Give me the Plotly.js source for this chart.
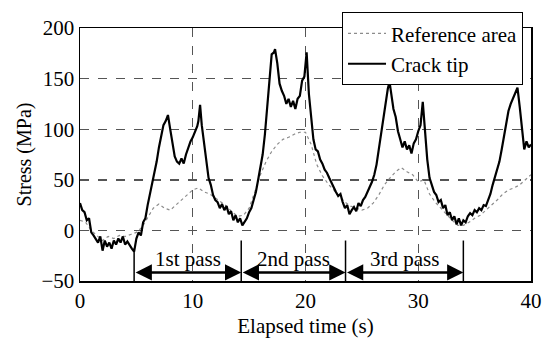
<!DOCTYPE html>
<html><head><meta charset="utf-8">
<script src="https://cdn.plot.ly/plotly-3.0.1.min.js"></script>
<style>html,body{margin:0;padding:0;background:#fff}#c{width:553px;height:345px}</style>
</head><body><div id="c"></div>
<script>
const crackT = [0,0.2,0.4,0.6,0.8,1,1.2,1.4,1.6,1.8,2,2.2,2.4,2.6,2.8,3,3.2,3.4,3.6,3.8,4,4.2,4.4,4.6,4.8,5,5.2,5.4,5.6,5.8,6,6.2,6.4,6.6,6.8,7,7.2,7.4,7.6,7.8,8,8.2,8.4,8.6,8.8,9,9.2,9.4,9.6,9.8,10,10.2,10.4,10.5,10.65,10.8,11,11.2,11.4,11.6,11.8,12,12.2,12.4,12.6,12.8,13,13.2,13.4,13.6,13.8,14,14.2,14.4,14.6,14.8,15,15.2,15.4,15.6,15.8,16,16.2,16.4,16.6,16.8,17,17.2,17.3,17.5,17.7,17.9,18.1,18.3,18.5,18.7,18.9,19.1,19.3,19.5,19.7,19.9,20.1,20.3,20.5,20.7,20.9,21.1,21.3,21.5,21.7,21.9,22.1,22.3,22.5,22.7,22.9,23.1,23.3,23.5,23.7,23.9,24.1,24.3,24.5,24.7,24.9,25.1,25.3,25.5,25.7,25.9,26.1,26.3,26.5,26.7,26.9,27.1,27.3,27.45,27.6,27.8,28,28.2,28.4,28.6,28.8,29,29.2,29.4,29.6,29.8,30,30.2,30.4,30.6,30.8,31,31.2,31.4,31.6,31.8,32,32.2,32.4,32.6,32.8,33,33.2,33.4,33.6,33.8,34,34.2,34.4,34.6,34.8,35,35.2,35.4,35.6,35.8,36,36.2,36.4,36.6,36.8,37,37.2,37.4,37.6,37.8,38,38.2,38.4,38.6,38.8,39,39.2,39.4,39.6,39.8,40];
const crackTip = [27,20,18,10,12,-2,-5,-8,-12,-6,-20,-10,-16,-12,-18,-10,-14,-8,-12,-6,-14,-11,-15,-18,-21,-8,-2,-5,8,12,25,35,48,58,68,82,95,104,108,114,100,88,73,68,66,71,66,75,82,88,92,97,103,108,124,104,88,70,52,45,35,30,28,22,26,20,24,16,19,10,15,8,12,5,9,12,18,22,30,38,50,64,75,95,122,155,174,176,179,165,145,138,133,125,130,122,128,120,130,133,148,152,176,135,108,90,80,78,70,66,60,57,52,47,42,38,34,36,28,22,25,16,20,23,19,27,24,30,33,38,42,48,55,65,80,95,112,128,140,147,135,120,112,98,90,82,88,80,84,76,86,90,98,104,127,98,70,52,45,38,35,28,30,22,25,15,18,10,14,6,12,5,10,8,14,17,15,20,18,22,20,25,24,30,36,45,52,60,68,80,92,105,118,125,130,136,141,122,98,80,88,82,85];
const refT = [0,0.5,1,1.5,2,2.5,3,3.5,4,4.5,5,5.5,6,6.5,7,7.5,8,8.5,9,9.5,10,10.5,11,11.5,12,12.5,13,13.5,14,14.5,15,15.5,16,16.5,17,17.5,18,18.5,19,19.5,20,20.5,21,21.5,22,22.5,23,23.5,24,24.5,25,25.5,26,26.5,27,27.5,28,28.5,29,29.5,30,30.5,31,31.5,32,32.5,33,33.5,34,34.5,35,35.5,36,36.5,37,37.5,38,38.5,39,39.5,40];
const refArea = [10,8,0,-5,-10,-6,-8,-5,-6,-4,-2,3,12,22,26,22,20,25,30,35,40,42,38,36,32,28,24,18,14,15,22,38,55,68,78,85,90,92,95,97,97,85,65,54,46,40,33,28,24,22,20,22,27,35,45,52,58,62,58,55,48,50,36,28,22,15,10,5,5,8,12,15,20,25,30,36,40,42,45,50,55];
const passLabels = ['1st pass','2nd pass','3rd pass'];
const passBounds = [4.8, 14.3, 23.55, 34.0];
const xTicks = [0,10,20,30,40];
const yTicks = [-50,0,50,100,150,200];

const fam = 'Times New Roman, Liberation Serif, DejaVu Serif, serif';
const font = {family:fam, size:21, color:'#000'};
const traces = [
  {x:refT, y:refArea, mode:'lines', name:'Reference area', line:{color:'#8c8c8c', width:1.2, dash:'dot'}},
  {x:crackT, y:crackTip, mode:'lines', name:'Crack tip', line:{color:'#000', width:2.2}}
];
const shapes = [];
const annotations = [];
const tops = [-18,-10,-10,-10];
passBounds.forEach((b,i)=>{
  shapes.push({type:'line', xref:'x', yref:'y', x0:b, x1:b, y0:-50, y1:tops[i], line:{color:'#000', width:1.5}});
});
for (let i=0;i<3;i++){
  const a = passBounds[i], b = passBounds[i+1];
  annotations.push({xref:'x', yref:'y', axref:'x', ayref:'y', x:b, y:-41.5, ax:a, ay:-41.5, text:'', showarrow:true, arrowhead:2, arrowside:'end+start', arrowsize:1.3, arrowwidth:2.5, arrowcolor:'#000', standoff:0, startstandoff:0});
  annotations.push({xref:'x', yref:'y', x:(a+b)/2, y:-28, text:passLabels[i], showarrow:false, font:font});
}
const layout = {
  width:553, height:345,
  margin:{l:80, r:22, t:24, b:64},
  paper_bgcolor:'#fff', plot_bgcolor:'#fff',
  font:font,
  showlegend:true,
  legend:{x:0.581, y:1.062, xanchor:'left', yanchor:'top', bgcolor:'#fff', bordercolor:'#000', borderwidth:1, font:{family:fam, size:21, color:'#000'}, tracegroupgap:0, itemwidth:38},
  xaxis:{range:[0,40], tickvals:xTicks, showgrid:true, gridcolor:'#555', griddash:'dash', gridwidth:1.4, zeroline:false, showline:true, linecolor:'#000', linewidth:1.5, mirror:true, ticks:'', tickfont:font, title:{text:'Elapsed time (s)', font:font, standoff:6}},
  yaxis:{range:[-50,200], tickvals:yTicks, showgrid:true, gridcolor:'#555', griddash:'dash', gridwidth:1.4, zeroline:false, showline:true, linecolor:'#000', linewidth:1.5, mirror:true, ticks:'', tickfont:font, title:{text:'Stress (MPa)', font:{family:fam, size:20, color:'#000'}, standoff:4}},
  shapes:shapes, annotations:annotations
};
Plotly.newPlot('c', traces, layout, {staticPlot:true, displayModeBar:false});
</script></body></html>
